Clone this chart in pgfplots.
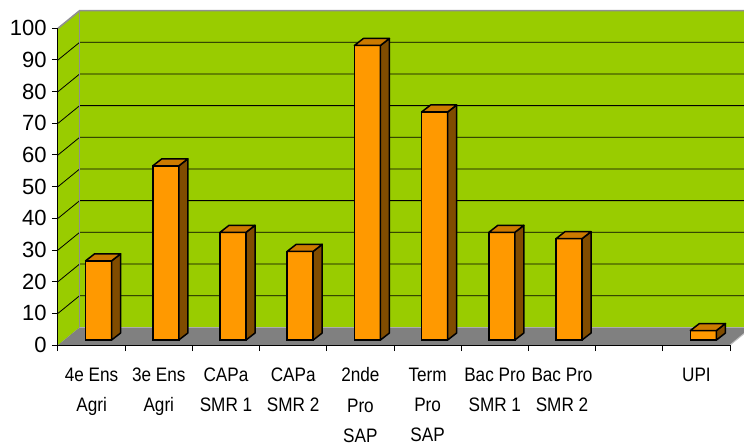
\documentclass[border=0pt]{standalone}
\usepackage{fontspec}
\setmainfont{Liberation Sans}
\newfontfamily\labelfont[FakeStretch=0.88]{Liberation Sans}
\usepackage{pgfplots}
\usepackage{pgfplotstable}
\pgfplotsset{compat=1.18}
\definecolor{wallc}{HTML}{99CC00}
\definecolor{floorc}{HTML}{808080}
\definecolor{barfront}{HTML}{FF9900}
\definecolor{barside}{HTML}{804C00}
\definecolor{bartop}{HTML}{CC7A00}
\definecolor{edgec}{HTML}{909090}
\pgfdeclareplotmark{emptymark}{}
\pgfplotstableread{
x v
0.5 25
1.5 55
2.5 34
3.5 28
4.5 93
5.5 72
6.5 34
7.5 32
9.5 3
}\bardata
\begin{document}
\begin{tikzpicture}
\begin{axis}[
  x=67.2pt, y=3.167pt,
  xmin=0, xmax=10, ymin=0, ymax=100,
  enlargelimits=false,
  clip=false,
  axis on top,
  axis lines=left,
  axis line style={-, black, line width=1pt},
  xtick={0.5,1.5,2.5,3.5,4.5,5.5,6.5,7.5,8.5,9.5},
  xticklabels={{4e Ens\\Agri},{3e Ens\\Agri},{CAPa\\SMR 1},{CAPa\\SMR 2},{2nde\\Pro\\SAP},{Term\\Pro\\SAP},{Bac Pro\\SMR 1},{Bac Pro\\SMR 2},{},{UPI}},
  minor xtick={0,1,...,10},
  ytick={0,10,...,100},
  minor ytick={0,10,...,100},
  tick align=outside,
  major tick length=0pt,
  minor tick length=6pt,
  tick style={black, line width=1pt},
  xticklabel style={font=\labelfont\fontsize{19.5}{30.3}\selectfont, align=center, anchor=north, inner sep=0pt, yshift=-22.5pt},
  yticklabel style={font=\fontsize{22}{26}\selectfont, anchor=east, inner sep=0pt, xshift=-11.3pt},
  /pgf/number format/assume math mode=true,
]
% walls and floor
\fill[wallc] (axis cs:0,0) -- (axis cs:0,100) -- (axis cs:0.3229,105.589) -- (axis cs:0.3229,5.589) -- cycle;
\fill[wallc] (axis cs:0.3229,5.589) rectangle (axis cs:10.208,105.589);
\fill[floorc] (axis cs:0,0) -- (axis cs:10,0) -- (axis cs:10.208,3.6) -- (axis cs:10.208,5.589) -- (axis cs:0.3229,5.589) -- cycle;
\pgfplotsinvokeforeach{10,20,...,90}{
  \draw[black, line width=0.8pt] (axis cs:0,#1) -- (axis cs:0.3229,{#1+5.589}) -- (axis cs:10.208,{#1+5.589});
}
\draw[edgec, line width=1.6pt] (axis cs:0,100) -- (axis cs:0.3229,105.589) -- (axis cs:10.208,105.589);
\draw[edgec, line width=1.4pt] (axis cs:0.3229,5.589) -- (axis cs:0.3229,105.589);
\draw[black!25, line width=1pt] (axis cs:10,0) -- (axis cs:10.208,3.6);
% bar fronts
\addplot[ybar, bar width=26pt, bar shift=7pt, yshift=5pt, fill=barfront, draw=black, line width=1.5pt]
  table[x=x, y=v] {\bardata};
% bar sides and tops
\addplot[scatter, only marks, mark=emptymark,
  visualization depends on={\thisrow{v} \as \val},
  scatter/@pre marker code/.code={%
    \pgfmathsetmacro\bb{5-\val*3.167}%
    \pgfmathsetmacro\bc{12-\val*3.167}%
    \filldraw[fill=barside, draw=black, line width=1.5pt, line join=round]
      (20pt,5pt) -- (29pt,12pt) -- (29pt,\bc pt) -- (20pt,\bb pt) -- cycle;
    \filldraw[fill=bartop, draw=black, line width=1.5pt, line join=round]
      (-6pt,5pt) -- (20pt,5pt) -- (29pt,12pt) -- (3pt,12pt) -- cycle;
  },
  scatter/@post marker code/.code={},
] table[x=x, y=v] {\bardata};
\coordinate (BL) at (axis cs:-0.863,-31.89);
\coordinate (TR) at (axis cs:10.208,108.94);
\end{axis}
\pgfresetboundingbox
\path[use as bounding box] (BL) rectangle (TR);
\end{tikzpicture}
\end{document}
